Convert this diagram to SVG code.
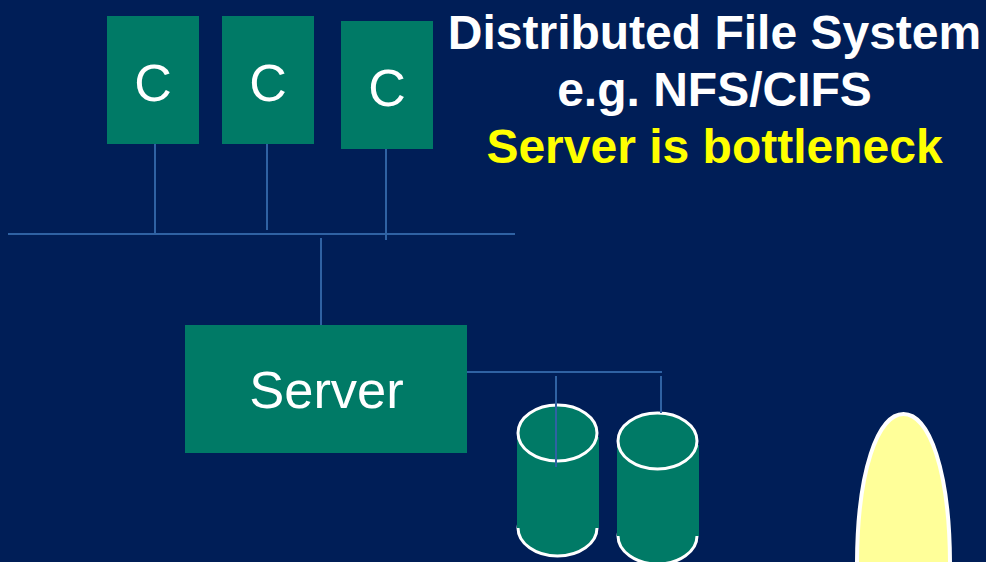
<svg xmlns="http://www.w3.org/2000/svg" width="986" height="562" viewBox="0 0 986 562">
  <style>
    .box { fill: #007A66; }
    .disk { fill: #007A66; stroke: #FFFFFF; stroke-width: 3; }
    .body { fill: #007A66; }
    .wire { stroke: #2F62A3; stroke-width: 2; fill: none; }
    .lbl { font-family: "Liberation Sans", Arial, sans-serif; fill: #FFFFFF; text-anchor: middle; }
    .title { font-family: "Liberation Sans", Arial, sans-serif; font-weight: bold; text-anchor: middle; font-size: 48px; }
  </style>
  <rect x="0" y="0" width="986" height="562" fill="#001E57"/>

  <!-- clients -->
  <g id="client1">
    <rect class="box" x="107" y="16" width="92" height="128"/>
    <text class="lbl" x="153" y="101" font-size="52">C</text>
  </g>
  <g id="client2">
    <rect class="box" x="222" y="16" width="92" height="128"/>
    <text class="lbl" x="268" y="101" font-size="52">C</text>
  </g>
  <g id="client3">
    <rect class="box" x="341" y="21" width="92" height="128"/>
    <text class="lbl" x="387" y="106" font-size="52">C</text>
  </g>

  <!-- server -->
  <g id="server">
    <rect class="box" x="185" y="325" width="282" height="128"/>
    <text class="lbl" x="326.5" y="408" font-size="52.5">Server</text>
  </g>

  <!-- disks -->
  <g id="disk1">
    <ellipse class="disk" cx="557.5" cy="528" rx="39.5" ry="28"/>
    <rect class="body" x="517" y="437" width="82" height="91"/>
    <ellipse class="disk" cx="557.5" cy="433" rx="39.5" ry="28"/>
  </g>
  <g id="disk2">
    <ellipse class="disk" cx="657.5" cy="536" rx="39.5" ry="28"/>
    <rect class="body" x="617" y="445" width="82" height="91"/>
    <ellipse class="disk" cx="657.5" cy="441" rx="39.5" ry="28"/>
  </g>

  <!-- connectors -->
  <g id="connectors">
    <line class="wire" x1="8" y1="234" x2="515" y2="234"/>
    <line class="wire" x1="155" y1="144" x2="155" y2="234"/>
    <line class="wire" x1="267" y1="144" x2="267" y2="230"/>
    <line class="wire" x1="386" y1="149" x2="386" y2="240"/>
    <line class="wire" x1="321" y1="238" x2="321" y2="325"/>
    <line class="wire" x1="467" y1="372" x2="662" y2="372"/>
    <line class="wire" x1="556" y1="376" x2="556" y2="467"/>
    <line class="wire" x1="661" y1="376" x2="661" y2="413"/>
  </g>

  <!-- title -->
  <g id="title">
    <text class="title" x="714.5" y="49" fill="#FFFFFF">Distributed File System</text>
    <text class="title" x="714.5" y="106" fill="#FFFFFF">e.g. NFS/CIFS</text>
    <text class="title" x="714.5" y="163" fill="#FFFF00">Server is bottleneck</text>
  </g>

  <!-- light bulb shape -->
  <g id="bulb">
    <path d="M857,566 C857,470 878,414 903.5,414 C929,414 950,470 950,566 Z" fill="#FFFF99" stroke="#FFFFFF" stroke-width="4"/>
  </g>
</svg>
